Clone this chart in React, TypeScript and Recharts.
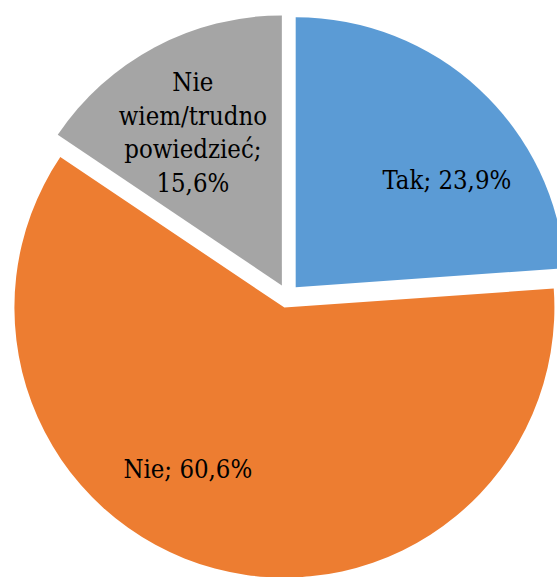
import { PieChart, Pie, Cell, Sector } from "recharts";

const categories = ["Tak", "Nie", "Nie wiem/trudno powiedzieć"];
const shares = [23.9, 60.6, 15.6];
const labelLines = [["Tak; 23,9%"], ["Nie; 60,6%"], ["Nie", "wiem/trudno", "powiedzieć;", "15,6%"]];

const colors = ["#5B9BD5", "#ED7D31", "#A5A5A5"];
const RAD = Math.PI / 180;
const EXPLODE = 12;
// label nudges (degrees along the arc, fraction of radius) to mimic Excel's best-fit
const labelTweak = [
  { shift: -11, r: 0.73 },
  { shift: -15, r: 0.74 },
  { shift: 2, r: 0.7 },
];
const FONT = "'DejaVu Serif Condensed', 'DejaVu Serif', serif";

const data = categories.map((name, i) => ({ name, value: shares[i], idx: i }));

const ExplodedSector = (props: any) => {
  const { cx, cy, midAngle } = props;
  const dx = EXPLODE * Math.cos(-midAngle * RAD);
  const dy = EXPLODE * Math.sin(-midAngle * RAD);
  return <Sector {...props} cx={cx + dx} cy={cy + dy} />;
};

const renderLabel = (props: any) => {
  const { cx, cy, midAngle, outerRadius, index } = props;
  const tw = labelTweak[index];
  const a = (midAngle + tw.shift) * RAD;
  const x = cx + outerRadius * tw.r * Math.cos(-a);
  const y = cy + outerRadius * tw.r * Math.sin(-a);
  const lines = labelLines[index];
  const lh = 33.5;
  const top = y - ((lines.length - 1) * lh) / 2;
  return (
    <text
      x={x}
      y={top}
      textAnchor="middle"
      dominantBaseline="central"
      fill="#000"
      style={{ fontFamily: FONT, fontSize: 25.5, fontStretch: "condensed" }}
    >
      {lines.map((l, i) => (
        <tspan key={i} x={x} y={top + i * lh}>
          {l}
        </tspan>
      ))}
    </text>
  );
};

export default function App() {
  return (
    <div style={{ position: "absolute", left: 0, top: 0, background: "#fff" }}>
      <PieChart width={557} height={577} margin={{ top: 0, right: 0, bottom: 0, left: 0 }}>
        <Pie
          data={data}
          dataKey="value"
          nameKey="name"
          cx={287.5}
          cy={296}
          outerRadius={270}
          startAngle={90}
          endAngle={-270}
          stroke="none"
          shape={ExplodedSector}
          label={renderLabel}
          labelLine={false}
          isAnimationActive={false}
        >
          {data.map((d) => (
            <Cell key={d.name} fill={colors[d.idx]} />
          ))}
        </Pie>
      </PieChart>
    </div>
  );
}
